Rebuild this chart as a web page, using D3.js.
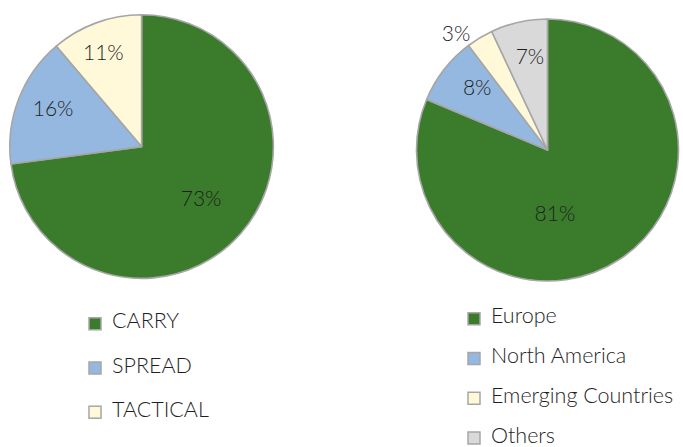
<!DOCTYPE html>
<html lang="en">
  <head>
    <meta charset="UTF-8" />
    <title>Allocation pies</title>
    <script src="https://d3js.org/d3.v7.min.js"></script>
    <style>
      body {
        margin: 0;
        background: #ffffff;
      }
      .chart text {
        font-family: Lato, "Open Sans", sans-serif;
        font-weight: 300;
        fill: #1f1f1f;
      }
    </style>
  </head>
  <body>
    <div class="chart"></div>
  </body>

  <script>
    // strategy split (left pie)
    var strategyLabels = ["CARRY", "SPREAD", "TACTICAL"];
    var strategyValues = [72.9, 15.9, 11.2];
    var strategyColors = ["#3a7b2c", "#95b8e1", "#fff9da"];

    // geographic split (right pie)
    var regionLabels = ["Europe", "North America", "Emerging Countries", "Others"];
    var regionValues = [81.3, 8.4, 3.3, 7.0];
    var regionColors = ["#3a7b2c", "#95b8e1", "#fff9da", "#d9d9d9"];

    var width = 683;
    var height = 447;

    var svg = d3
      .select(".chart")
      .append("svg")
      .attr("width", width)
      .attr("height", height);

    // data label placement: radius as share of pie radius, and angle nudge in degrees
    var strategyLabelPos = { k: [0.6, 0.73, 0.77], shift: [0, 2, -2] };
    var regionLabelPos = { k: [0.49, 0.72, 1.13, 0.73], shift: [27, 4, -7, 2] };

    function drawPie(cfg) {
      var data = cfg.labels.map(function (l, i) {
        return { label: l, value: cfg.values[i], color: cfg.colors[i] };
      });

      var pie = d3
        .pie()
        .sort(null)
        .value(function (d) {
          return d.value;
        });
      var arcs = pie(data);

      var arc = d3.arc().innerRadius(0).outerRadius(cfg.r);

      var g = svg
        .append("g")
        .attr("transform", "translate(" + cfg.cx + "," + cfg.cy + ")");

      g.selectAll("path")
        .data(arcs)
        .enter()
        .append("path")
        .attr("d", arc)
        .attr("fill", function (d) {
          return d.data.color;
        })
        .attr("stroke", "#a6a6a6")
        .attr("stroke-width", 1.6)
        .attr("stroke-linejoin", "round");

      // percentage labels
      g.selectAll("text.pct")
        .data(arcs)
        .enter()
        .append("text")
        .attr("class", "pct")
        .attr("transform", function (d, i) {
          var a =
            (d.startAngle + d.endAngle) / 2 +
            (cfg.labelPos.shift[i] * Math.PI) / 180;
          var rr = cfg.r * cfg.labelPos.k[i];
          return (
            "translate(" + rr * Math.sin(a) + "," + -rr * Math.cos(a) + ")"
          );
        })
        .attr("text-anchor", "middle")
        .attr("dy", "0.36em")
        .style("font-size", "21px")
        .text(function (d) {
          return Math.round(d.data.value) + "%";
        });

      // legend
      var y = d3
        .scalePoint()
        .domain(cfg.labels)
        .range(cfg.legendY);

      var leg = svg
        .append("g")
        .selectAll("g")
        .data(data)
        .enter()
        .append("g")
        .attr("transform", function (d) {
          return "translate(" + cfg.legendX + "," + y(d.label) + ")";
        });

      leg
        .append("rect")
        .attr("x", 0)
        .attr("y", -10.5)
        .attr("width", 12)
        .attr("height", 12)
        .attr("fill", function (d) {
          return d.color;
        })
        .attr("stroke", "#a6a6a6")
        .attr("stroke-width", 1.5);

      leg
        .append("text")
        .attr("x", 23)
        .attr("y", 0)
        .style("font-size", "21.5px")
        .text(function (d) {
          return d.label;
        });
    }

    drawPie({
      labels: strategyLabels,
      values: strategyValues,
      colors: strategyColors,
      cx: 141.6,
      cy: 146.6,
      r: 131.8,
      labelPos: strategyLabelPos,
      legendX: 89,
      legendY: [328.3, 416.7],
    });

    drawPie({
      labels: regionLabels,
      values: regionValues,
      colors: regionColors,
      cx: 547.5,
      cy: 150,
      r: 131,
      labelPos: regionLabelPos,
      legendX: 468,
      legendY: [323.3, 442.5],
    });
  </script>
</html>
